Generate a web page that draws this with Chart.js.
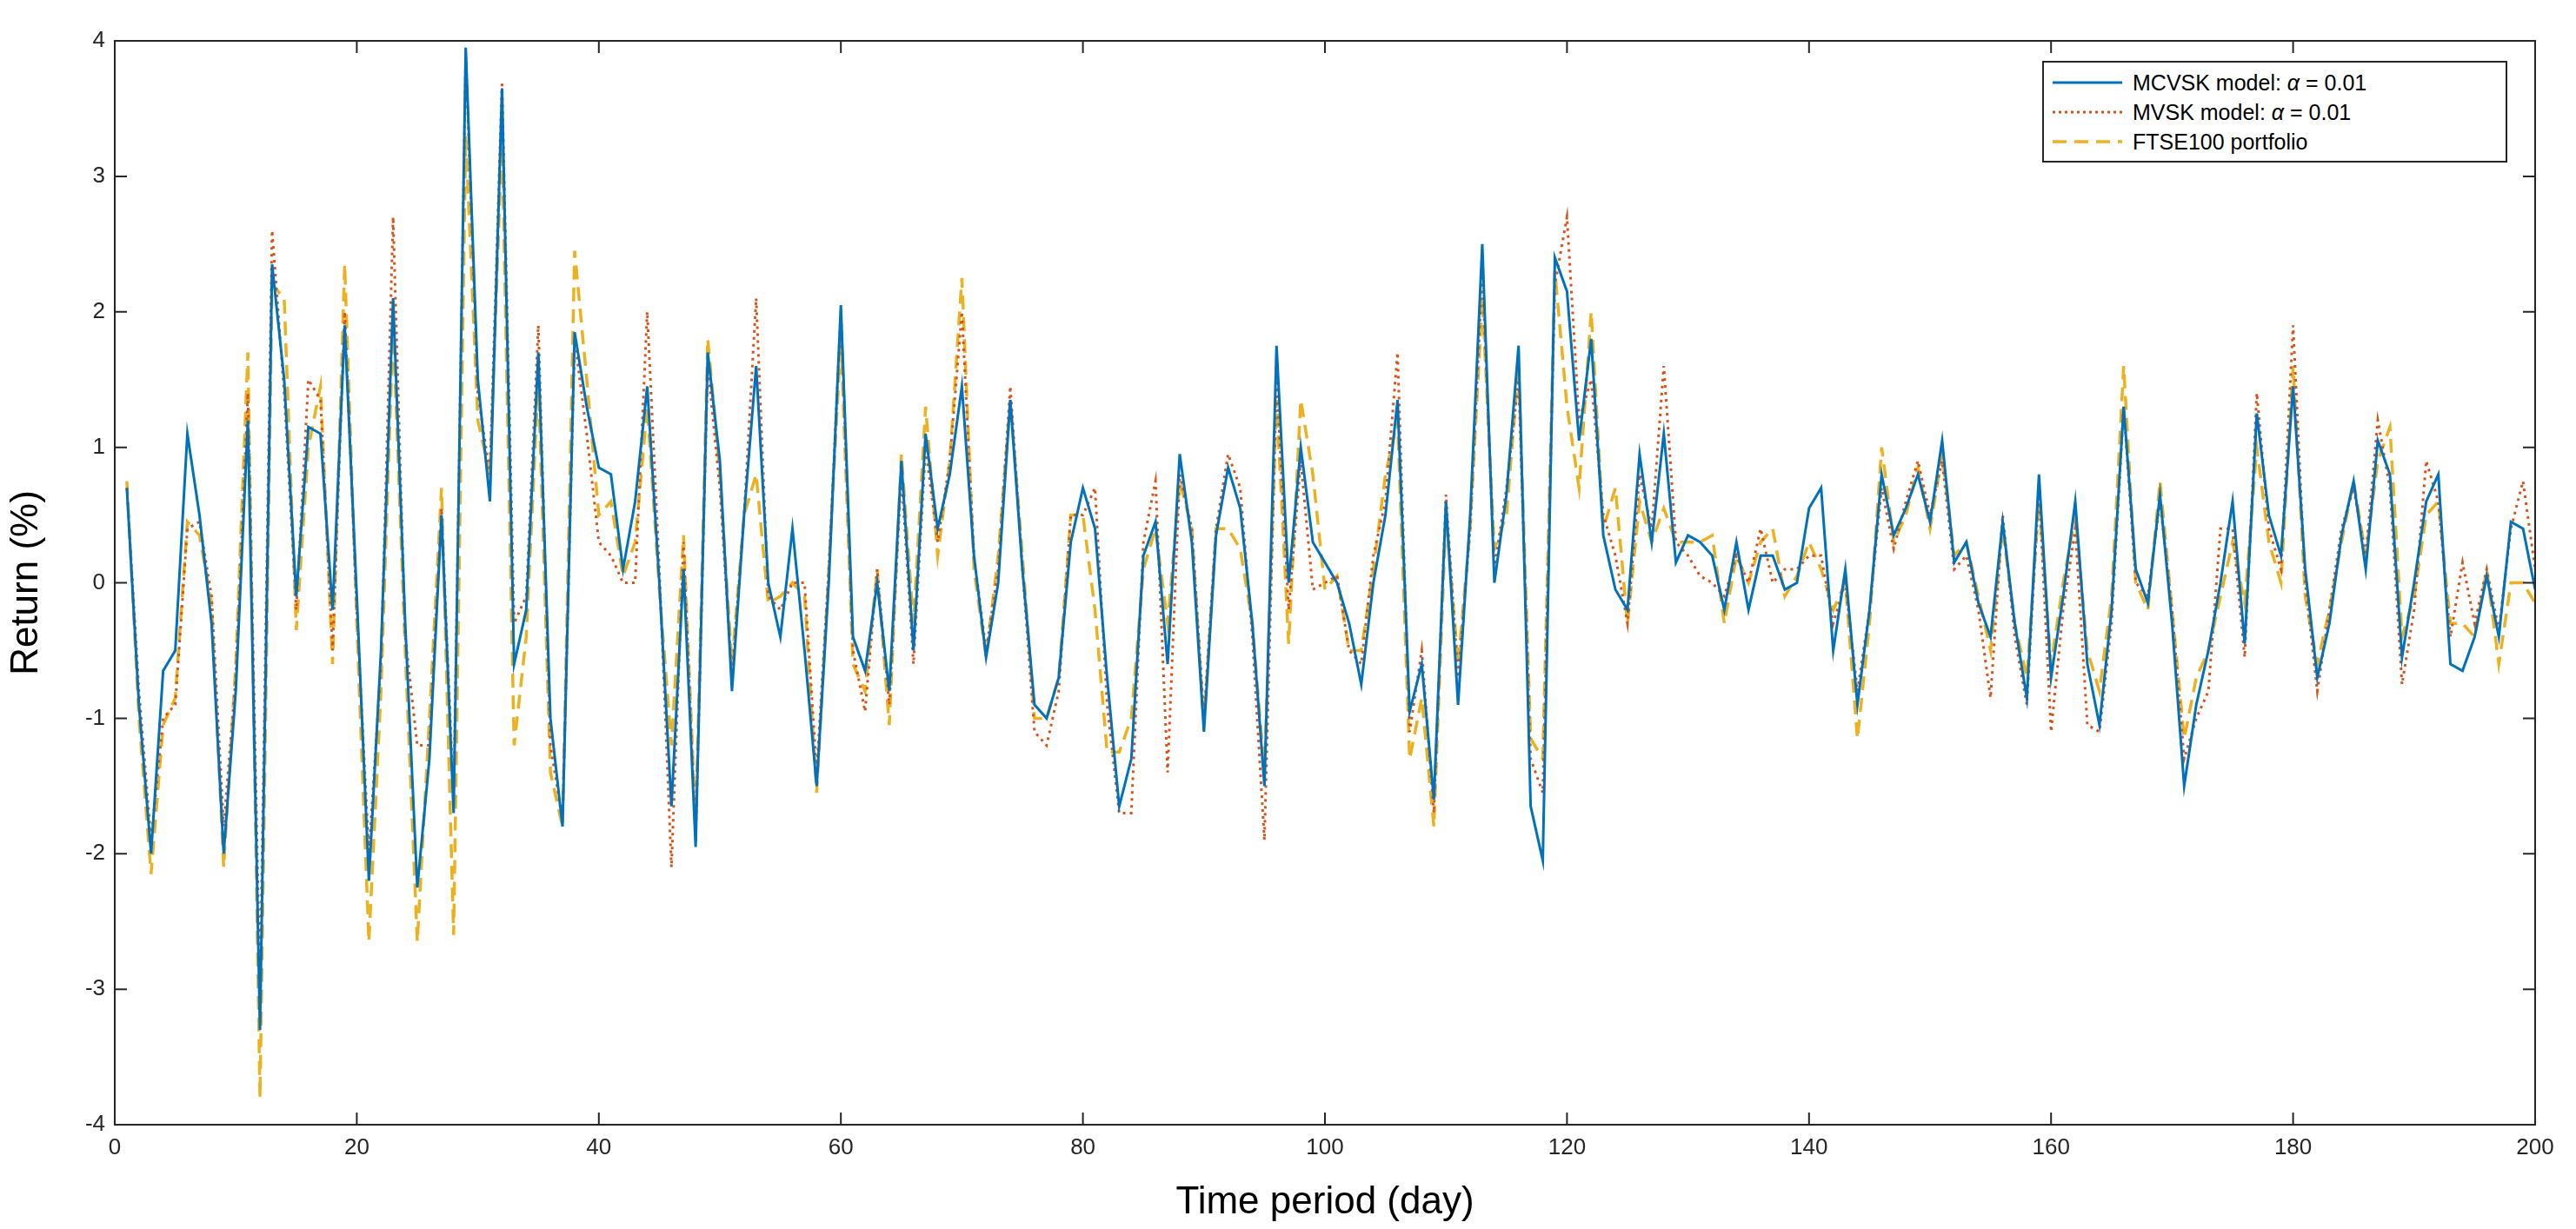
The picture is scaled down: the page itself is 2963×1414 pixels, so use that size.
<!DOCTYPE html>
<html><head><meta charset="utf-8">
<script src="https://cdn.jsdelivr.net/npm/chart.js@4"></script>
<style>
html,body{margin:0;padding:0;background:#fff;}
#wrap{position:relative;width:2963px;height:1414px;}
#legend{position:absolute;left:2349px;top:70px;width:535px;height:117px;border:2px solid #262626;background:#fff;font-family:"Liberation Sans",Arial,sans-serif;font-size:25px;color:#000;box-sizing:border-box;padding:6px 0 0 10px;}
#legend div{height:34px;display:flex;align-items:center;}
#legend svg{margin-right:12px;}
</style></head><body>
<div id="wrap"><canvas id="c" width="2963" height="1414"></canvas>
<div id="legend">
<div><svg width="80" height="10"><line x1="0" y1="5" x2="80" y2="5" stroke="#0072BD" stroke-width="3"/></svg>MCVSK model: <i>&nbsp;α</i>&nbsp;= 0.01</div>
<div><svg width="80" height="10"><line x1="0" y1="5" x2="80" y2="5" stroke="#D95319" stroke-width="3" stroke-dasharray="3,4"/></svg>MVSK model: <i>&nbsp;α</i>&nbsp;= 0.01</div>
<div><svg width="80" height="10"><line x1="0" y1="5" x2="80" y2="5" stroke="#EDB120" stroke-width="3.5" stroke-dasharray="16,9"/></svg>FTSE100 portfolio</div>
</div></div>
<script>
const days = Array.from({length:200},(_,i)=>i+1);
const mcvsk = [0.7,-0.9,-2.0,-0.65,-0.5,1.1,0.5,-0.3,-2.0,-0.8,
1.2,-3.3,2.35,1.5,-0.1,1.15,1.1,-0.2,1.9,-0.1,
-2.2,-0.5,2.1,-0.3,-2.25,-1.3,0.5,-1.7,3.95,1.5,
0.6,3.65,-0.6,-0.2,1.7,-1.0,-1.8,1.85,1.3,0.85,
0.8,0.1,0.6,1.45,0.0,-1.65,0.1,-1.95,1.7,0.9,
-0.8,0.5,1.6,0.0,-0.4,0.4,-0.5,-1.5,0.0,2.05,
-0.4,-0.65,0.0,-0.8,0.9,-0.5,1.1,0.4,0.8,1.45,
0.2,-0.55,0.0,1.35,0.1,-0.9,-1.0,-0.7,0.3,0.7,
0.4,-0.7,-1.65,-1.3,0.2,0.45,-0.6,0.95,0.3,-1.1,
0.35,0.85,0.55,-0.3,-1.5,1.75,0.0,1.0,0.3,0.15,
0.0,-0.3,-0.75,0.0,0.5,1.35,-0.95,-0.6,-1.6,0.6,
-0.9,0.5,2.5,0.0,0.65,1.75,-1.65,-2.05,2.4,2.15,
1.05,1.8,0.35,-0.05,-0.2,0.95,0.3,1.1,0.15,0.35,
0.3,0.2,-0.2,0.3,-0.2,0.2,0.2,-0.05,0.0,0.55,
0.7,-0.5,0.1,-0.9,-0.2,0.8,0.35,0.55,0.8,0.45,
1.05,0.15,0.3,-0.15,-0.4,0.45,-0.3,-0.85,0.8,-0.7,
-0.1,0.6,-0.6,-1.05,-0.2,1.3,0.1,-0.15,0.65,-0.3,
-1.5,-0.9,-0.5,0.0,0.6,-0.45,1.25,0.5,0.2,1.45,
0.1,-0.7,-0.3,0.35,0.75,0.1,1.05,0.8,-0.55,0.0,
0.6,0.8,-0.6,-0.65,-0.4,0.05,-0.4,0.45,0.4,-0.05];
const mvsk = [0.7,-0.8,-1.9,-1.0,-0.9,0.4,0.45,-0.1,-1.8,-0.7,
1.4,-3.0,2.6,1.4,-0.2,1.5,1.35,-0.5,2.0,-0.2,
-2.0,-0.6,2.7,-0.4,-1.2,-1.2,0.55,-1.6,3.9,1.4,
0.8,3.7,-0.3,-0.1,1.9,-1.2,-1.75,1.8,1.1,0.3,
0.2,0.0,0.0,2.0,0.1,-2.1,0.3,-1.9,1.6,0.7,
-0.7,0.5,2.1,-0.1,-0.2,0.0,0.0,-1.4,0.1,2.0,
-0.5,-0.95,0.1,-0.9,0.8,-0.6,1.0,0.3,0.9,2.0,
0.2,-0.5,0.1,1.45,0.1,-1.1,-1.2,-0.8,0.5,0.5,
0.7,-0.9,-1.7,-1.7,0.3,0.75,-1.4,0.8,0.4,-1.0,
0.4,0.95,0.7,-0.4,-1.9,1.5,-0.2,0.9,-0.05,0.0,
0.05,-0.5,-0.6,0.2,0.6,1.7,-1.1,-0.5,-1.7,0.65,
-0.7,0.4,2.3,0.1,0.7,1.5,-1.3,-1.55,2.2,2.7,
1.2,1.5,0.5,0.2,-0.3,0.8,0.4,1.6,0.3,0.2,
0.05,0.0,-0.1,0.2,0.0,0.4,0.0,0.1,0.1,0.2,
0.2,-0.3,0.0,-0.8,-0.2,0.7,0.25,0.6,0.9,0.5,
0.9,0.1,0.2,-0.2,-0.85,0.5,-0.4,-0.9,0.7,-1.1,
-0.2,0.4,-1.05,-1.1,-0.3,1.3,0.0,-0.1,0.6,-0.2,
-1.3,-1.0,-0.8,0.4,0.4,-0.55,1.4,0.4,0.1,1.9,
0.0,-0.8,-0.2,0.4,0.7,0.2,1.2,0.7,-0.75,-0.2,
0.9,0.6,-0.4,0.15,-0.3,0.1,-0.35,0.4,0.75,0.1];
const ftse = [0.75,-1.0,-2.15,-1.05,-0.85,0.45,0.35,-0.15,-2.1,-0.6,
1.7,-3.8,2.2,2.1,-0.35,1.0,1.45,-0.6,2.35,-0.3,
-2.65,-0.8,1.9,-0.5,-2.65,-1.0,0.7,-2.6,3.3,1.2,
0.8,3.3,-1.2,-0.4,1.5,-1.4,-1.8,2.45,1.5,0.5,
0.6,0.05,0.3,1.3,-0.05,-1.2,0.35,-1.8,1.8,0.8,
-0.6,0.5,0.8,-0.15,-0.1,0.0,-0.1,-1.55,0.1,1.8,
-0.6,-0.8,0.1,-1.05,0.95,-0.3,1.3,0.2,0.9,2.25,
0.1,-0.55,0.2,1.35,0.2,-1.0,-1.0,-0.7,0.5,0.5,
-0.2,-1.25,-1.25,-1.0,0.1,0.4,-0.3,0.75,0.4,-1.05,
0.4,0.4,0.25,-0.3,-1.4,1.35,-0.45,1.35,0.8,-0.05,
0.05,-0.5,-0.5,0.1,0.8,1.2,-1.3,-0.85,-1.8,0.5,
-0.6,0.4,2.1,0.25,0.5,1.6,-1.15,-1.3,2.3,1.3,
0.7,2.0,0.4,0.7,-0.3,0.6,0.3,0.55,0.3,0.3,
0.3,0.35,-0.3,0.2,0.0,0.3,0.4,-0.1,0.05,0.3,
0.1,-0.2,0.0,-1.15,-0.3,1.0,0.3,0.5,0.85,0.4,
0.95,0.2,0.3,-0.1,-0.5,0.4,-0.3,-0.7,0.6,-0.6,
0.0,0.5,-0.5,-0.8,-0.1,1.6,0.0,-0.2,0.75,-0.2,
-1.15,-0.7,-0.5,-0.1,0.3,-0.15,1.0,0.3,0.0,1.6,
-0.1,-0.6,-0.2,0.3,0.75,0.2,0.9,1.15,-0.4,-0.1,
0.5,0.6,-0.3,-0.3,-0.4,0.1,-0.6,0.0,0.0,-0.15];
const pts = a => a.map((v,i)=>({x:days[i],y:v}));
const frame = {id:'frame',afterDatasetsDraw(c){const a=c.chartArea,x=c.ctx;x.save();x.strokeStyle='#262626';x.lineWidth=2;x.strokeRect(a.left,a.top,a.right-a.left,a.bottom-a.top);
 x.beginPath();const sx=c.scales.x,sy=c.scales.y;
 for(let v=0;v<=200;v+=20){const p=sx.getPixelForValue(v);x.moveTo(p,a.bottom);x.lineTo(p,a.bottom-14);x.moveTo(p,a.top);x.lineTo(p,a.top+14);}
 for(let v=-4;v<=4;v++){const p=sy.getPixelForValue(v);x.moveTo(a.left,p);x.lineTo(a.left+14,p);x.moveTo(a.right,p);x.lineTo(a.right-14,p);}
 x.stroke();x.restore();}};
new Chart(document.getElementById('c'),{type:'line',
data:{datasets:[
{label:'MCVSK',data:pts(mcvsk),borderColor:'#0072BD',borderWidth:3,pointRadius:0,tension:0},
{label:'MVSK',data:pts(mvsk),borderColor:'#D95319',borderWidth:3,borderDash:[3,5],pointRadius:0,tension:0},
{label:'FTSE100',data:pts(ftse),borderColor:'#EDB120',borderWidth:3.5,borderDash:[16,9],pointRadius:0,tension:0}]},
options:{responsive:false,animation:false,layout:{padding:{top:47,right:47,left:0,bottom:0}},
plugins:{legend:{display:false},tooltip:{enabled:false}},
scales:{
x:{type:'linear',min:0,max:200,ticks:{stepSize:20,color:'#262626',font:{size:26,family:'Liberation Sans'},maxRotation:0},grid:{display:false},border:{display:false},
 title:{display:true,text:'Time period (day)',color:'#000',font:{size:44,family:'Liberation Sans'},padding:{top:4}},afterFit(s){s.height=120;}},
y:{min:-4,max:4,ticks:{stepSize:1,color:'#262626',font:{size:26,family:'Liberation Sans'}},grid:{display:false},border:{display:false},
 title:{display:true,text:'Return (%)',color:'#000',font:{size:44,family:'Liberation Sans'}},afterFit(s){s.width=132;}}}},
plugins:[frame]});
</script></body></html>
